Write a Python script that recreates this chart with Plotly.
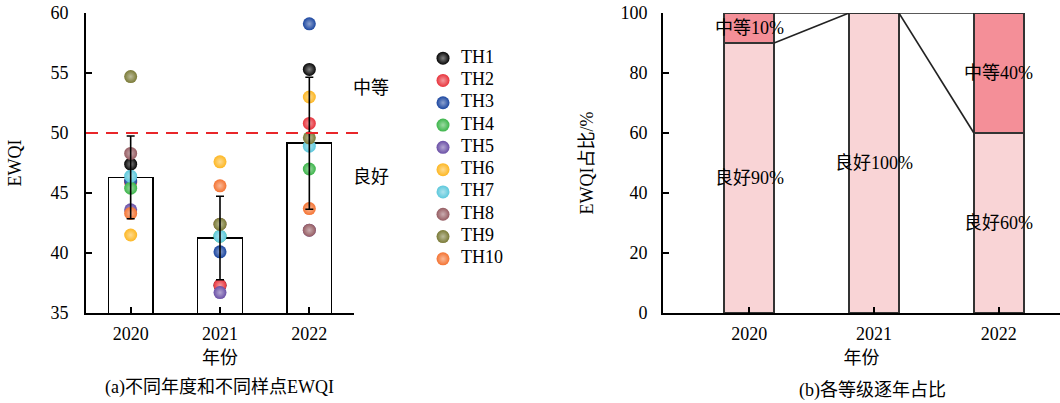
import plotly.graph_objects as go

# ---------------- data ----------------
years = ["2020", "2021", "2022"]
sites = ["TH1", "TH2", "TH3", "TH4", "TH5", "TH6", "TH7", "TH8", "TH9", "TH10"]
site_colors = ["#050505", "#E8333C", "#1B46A0", "#3CB54A", "#6A4FA6",
               "#FDB723", "#5CC8DC", "#955C62", "#7A7A36", "#F47332"]
ewqi = {
    "TH1": [47.4, 37.3, 55.3],
    "TH2": [45.9, 37.3, 50.8],
    "TH3": [46.0, 40.1, 59.1],
    "TH4": [45.4, 41.4, 47.0],
    "TH5": [43.6, 36.7, 41.9],
    "TH6": [41.5, 47.6, 53.0],
    "TH7": [46.4, 41.4, 48.9],
    "TH8": [48.3, 42.4, 41.9],
    "TH9": [54.7, 42.4, 49.6],
    "TH10": [43.3, 45.6, 43.7],
}
ewqi_mean = [46.3, 41.25, 49.15]
ewqi_std = [3.45, 3.48, 5.5]
threshold = 50
grade_good = [90, 100, 60]   # 良好 %
grade_mid = [10, 0, 40]      # 中等 %

W, H = 1060, 403
FONT = "Liberation Serif, Noto Sans CJK SC"


def px_x(p):
    return p / W


def px_y(p):
    return 1 - p / H


def tint(hexc, f):
    h = hexc.lstrip("#")
    r, g, b = int(h[0:2], 16), int(h[2:4], 16), int(h[4:6], 16)
    r = int(r + (255 - r) * f)
    g = int(g + (255 - g) * f)
    b = int(b + (255 - b) * f)
    return f"rgb({r},{g},{b})"


fig = go.Figure()
xs = [0, 1, 2]

# ---- left: bars of mean EWQI ----
fig.add_trace(go.Bar(x=xs, y=ewqi_mean, width=0.5, base=0,
                     marker=dict(color="white", line=dict(color="black", width=1.6)),
                     showlegend=False, hoverinfo="skip", xaxis="x", yaxis="y"))

for s, c in zip(sites, site_colors):
    fig.add_trace(go.Scatter(
        x=xs, y=ewqi[s], mode="markers", name=s, showlegend=False,
        marker=dict(size=13, color=c, line=dict(width=0),
                    gradient=dict(type="radial", color=tint(c, 0.5))),
        xaxis="x", yaxis="y"))

fig.add_trace(go.Scatter(
    x=xs, y=ewqi_mean, mode="markers",
    marker=dict(size=1, color="rgba(0,0,0,0)"),
    error_y=dict(type="data", array=ewqi_std, color="black", thickness=1.6, width=4),
    showlegend=False, hoverinfo="skip", xaxis="x", yaxis="y"))

# ---- legend of sites (drawn on a hidden helper axis, pixel-like units) ----
leg_idx = list(range(len(sites)))
fig.add_trace(go.Scatter(
    x=[20] * len(sites), y=leg_idx, mode="markers",
    marker=dict(size=13, color=site_colors, line=dict(width=0),
                gradient=dict(type="radial", color=[tint(c, 0.5) for c in site_colors])),
    showlegend=False, hoverinfo="skip", xaxis="x3", yaxis="y3"))
fig.add_trace(go.Scatter(
    x=[38] * len(sites), y=leg_idx, mode="text", text=sites,
    textposition="middle right",
    textfont=dict(size=18, color="black", family=FONT),
    showlegend=False, hoverinfo="skip", xaxis="x3", yaxis="y3"))

# ---- right: stacked grade share ----
BW = 0.4
fig.add_trace(go.Bar(x=xs, y=grade_good, width=BW, name="良好",
                     marker=dict(color="#F9D4D6", line=dict(color="#333333", width=1.6)),
                     showlegend=False, xaxis="x2", yaxis="y2"))
fig.add_trace(go.Bar(x=xs, y=grade_mid, width=BW, name="中等",
                     marker=dict(color="#F48F98", line=dict(color="#333333", width=1.6)),
                     showlegend=False, xaxis="x2", yaxis="y2"))

totals = [g + m for g, m in zip(grade_good, grade_mid)]
for i in range(len(xs) - 1):
    for series in (grade_good, totals):
        fig.add_trace(go.Scatter(
            x=[xs[i] + BW / 2, xs[i + 1] - BW / 2], y=[series[i], series[i + 1]],
            mode="lines", line=dict(color="#222222", width=1.6),
            showlegend=False, hoverinfo="skip", xaxis="x2", yaxis="y2"))

annotations = []
for i in range(len(xs)):
    annotations.append(dict(x=xs[i], y=grade_good[i] / 2, xref="x2", yref="y2",
                            text=f"良好{grade_good[i]}%", showarrow=False,
                            xanchor="center", yanchor="middle",
                            font=dict(size=18, color="black", family=FONT)))
    if grade_mid[i] > 0:
        annotations.append(dict(x=xs[i], y=grade_good[i] + grade_mid[i] / 2,
                                xref="x2", yref="y2",
                                text=f"中等{grade_mid[i]}%", showarrow=False,
                                xanchor="center", yanchor="middle",
                                font=dict(size=18, color="black", family=FONT)))

annotations += [
    dict(x=px_x(371), y=53.75, xref="paper", yref="y", text="中等", showarrow=False,
         xanchor="center", yanchor="middle",
         font=dict(size=18, color="black", family=FONT)),
    dict(x=px_x(371), y=46.3, xref="paper", yref="y", text="良好", showarrow=False,
         xanchor="center", yanchor="middle",
         font=dict(size=18, color="black", family=FONT)),
    dict(x=px_x(219), y=px_y(387), xref="paper", yref="paper",
         text="(a)不同年度和不同样点EWQI", showarrow=False,
         xanchor="center", yanchor="middle",
         font=dict(size=18, color="black", family=FONT)),
    dict(x=px_x(872), y=px_y(390), xref="paper", yref="paper",
         text="(b)各等级逐年占比", showarrow=False,
         xanchor="center", yanchor="middle",
         font=dict(size=18, color="black", family=FONT)),
]

axis_common = dict(showline=True, linecolor="black", linewidth=1.6, ticks="inside",
                   ticklen=6, tickwidth=1.6, tickcolor="black", showgrid=False,
                   zeroline=False, automargin=False,
                   tickfont=dict(size=18, color="black", family=FONT),
                   title_font=dict(size=18, color="black", family=FONT))

fig.update_layout(
    width=W, height=H, margin=dict(l=0, r=0, t=0, b=0, autoexpand=False),
    paper_bgcolor="white", plot_bgcolor="white",
    barmode="stack", font=dict(family=FONT, color="black"),
    showlegend=False,
    xaxis=dict(domain=[px_x(86), px_x(354)], range=[-0.5, 2.5], tickvals=xs,
               ticktext=years, anchor="y", ticklabelstandoff=4,
               title=dict(text="年份", standoff=8), **axis_common),
    yaxis=dict(domain=[px_y(313), px_y(13)], range=[35, 60], tickvals=[35, 40, 45, 50, 55, 60],
               anchor="x", ticklabelstandoff=12,
               title=dict(text="EWQI", standoff=24), **axis_common),
    xaxis2=dict(domain=[px_x(663), 1.0], range=[-0.69, 2.49], tickvals=xs,
                ticktext=years, anchor="y2", ticklabelstandoff=4,
                title=dict(text="年份", standoff=8), **axis_common),
    yaxis2=dict(domain=[px_y(313), px_y(13)], range=[0, 100], tickvals=[0, 20, 40, 60, 80, 100],
                anchor="x2", ticklabelstandoff=10,
                title=dict(text="EWQI占比/%", standoff=22), **axis_common),
    xaxis3=dict(domain=[px_x(423), px_x(543)], range=[0, 120], visible=False,
                fixedrange=True, anchor="y3"),
    yaxis3=dict(domain=[px_y(270), px_y(47)], range=[9.5, -0.5], visible=False,
                fixedrange=True, anchor="x3"),
    shapes=[dict(type="line", xref="paper", yref="y", x0=px_x(86), x1=px_x(362),
                 y0=threshold, y1=threshold,
                 line=dict(color="#E8262A", width=2, dash="12px,8px"))],
    annotations=annotations,
)

fig.write_html("out.html", config={"displayModeBar": False},
               post_script="document.body.style.margin='0';")
